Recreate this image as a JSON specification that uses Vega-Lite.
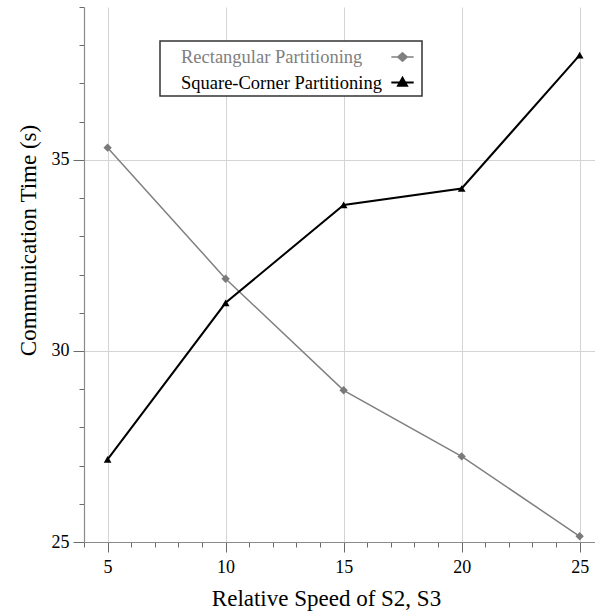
{
  "$schema": "https://vega.github.io/schema/vega-lite/v6.json",
  "autosize": "none",
  "width": 511,
  "height": 535,
  "padding": {"left": 84, "top": 7, "right": 0, "bottom": 69},
  "background": "white",
  "config": {
    "view": {"stroke": null},
    "font": "Liberation Serif",
    "axis": {
      "labelFont": "Liberation Serif",
      "titleFont": "Liberation Serif",
      "labelFontSize": 18,
      "titleFontSize": 23,
      "labelColor": "#000000",
      "titleColor": "#000000",
      "titleFontWeight": "normal",
      "domainColor": "#8a8a8a",
      "domainWidth": 1.2,
      "tickColor": "#6a6a6a",
      "tickWidth": 1,
      "gridColor": "#d4d4d4",
      "gridWidth": 1
    }
  },
  "data": {
    "values": [
      {"speed": 5, "series": "Rectangular Partitioning", "time": 35.32},
      {"speed": 10, "series": "Rectangular Partitioning", "time": 31.89},
      {"speed": 15, "series": "Rectangular Partitioning", "time": 28.97},
      {"speed": 20, "series": "Rectangular Partitioning", "time": 27.24},
      {"speed": 25, "series": "Rectangular Partitioning", "time": 25.15},
      {"speed": 5, "series": "Square-Corner Partitioning", "time": 27.16},
      {"speed": 10, "series": "Square-Corner Partitioning", "time": 31.26},
      {"speed": 15, "series": "Square-Corner Partitioning", "time": 33.82},
      {"speed": 20, "series": "Square-Corner Partitioning", "time": 34.25},
      {"speed": 25, "series": "Square-Corner Partitioning", "time": 37.74}
    ]
  },
  "encoding": {
    "x": {
      "field": "speed",
      "type": "quantitative",
      "title": "Relative Speed of S2, S3",
      "scale": {"domain": [4, 25.65], "nice": false, "zero": false},
      "axis": {
        "values": [4,5,6,7,8,9,10,11,12,13,14,15,16,17,18,19,20,21,22,23,24,25],
        "labelExpr": "datum.value % 5 === 0 ? datum.label : ''",
        "tickSize": {"condition": {"test": "datum.value % 5 !== 0", "value": 5}, "value": 10},
        "gridOpacity": {"condition": {"test": "datum.value % 5 !== 0", "value": 0}, "value": 1},
        "labelPadding": 6,
        "labelFlush": false,
        "titleX": 242,
        "titleY": 63,
        "titleBaseline": "alphabetic"
      }
    },
    "y": {
      "field": "time",
      "type": "quantitative",
      "title": "Communication Time (s)",
      "scale": {"domain": [25, 39], "nice": false, "zero": false},
      "axis": {
        "values": [25,26,27,28,29,30,31,32,33,34,35,36,37,38,39],
        "labelExpr": "datum.value % 5 === 0 ? datum.label : ''",
        "tickSize": {"condition": {"test": "datum.value % 5 !== 0", "value": 5}, "value": 11},
        "gridOpacity": {"condition": {"test": "datum.value % 5 !== 0", "value": 0}, "value": 1},
        "labelPadding": 4,
        "labelFlush": false,
        "titleX": -49,
        "titleY": 233,
        "titleBaseline": "alphabetic"
      }
    }
  },
  "layer": [
    {
      "mark": {"type": "line"},
      "encoding": {
        "color": {
          "field": "series",
          "type": "nominal",
          "scale": {"domain": ["Rectangular Partitioning", "Square-Corner Partitioning"], "range": ["#808080", "#000000"]},
          "legend": {
            "title": null,
            "orient": "none",
            "legendX": 76,
            "legendY": 34,
            "direction": "vertical",
            "fillColor": "white",
            "strokeColor": "#333333",
            "padding": 4,
            "labelFont": "Liberation Serif",
            "labelFontSize": 18.5,
            "labelOffset": -234,
            "symbolOffset": 226,
            "symbolSize": 500,
            "symbolStrokeWidth": 1.5,
            "rowPadding": 3,
            "labelLimit": 500,
            "labelExpr": "datum.label + '          '",
            "encode": {
              "legend": {
                "update": {"strokeWidth": {"value": 1.5}}
              },
              "symbols": {
                "update": {
                  "shape": {"signal": "datum.value === 'Rectangular Partitioning' ? 'M-1,0H1M0,-0.38L0.42,0L0,0.38L-0.42,0Z' : 'M-1,0H1M0,-0.42L0.4,0.3L-0.4,0.3Z'"},
                  "size": {"value": 500},
                  "strokeWidth": {"value": 1.5},
                  "fill": {"signal": "datum.value === 'Rectangular Partitioning' ? '#808080' : '#000000'"},
                  "stroke": {"signal": "datum.value === 'Rectangular Partitioning' ? '#808080' : '#000000'"},
                  "opacity": {"value": 1}
                }
              },
              "labels": {
                "update": {
                  "fill": {"signal": "datum.value === 'Rectangular Partitioning' ? '#808080' : '#000000'"}
                }
              }
            }
          }
        },
        "strokeWidth": {
          "field": "series",
          "type": "nominal",
          "scale": {"domain": ["Rectangular Partitioning", "Square-Corner Partitioning"], "range": [1.5, 2]},
          "legend": null
        }
      }
    },
    {
      "transform": [{"filter": "datum.series === 'Rectangular Partitioning'"}],
      "mark": {"type": "point", "filled": true, "opacity": 1, "shape": "diamond", "color": "#7a7a7a", "size": 70}
    },
    {
      "transform": [{"filter": "datum.series === 'Square-Corner Partitioning'"}],
      "mark": {"type": "point", "filled": true, "opacity": 1, "shape": "triangle-up", "color": "#000000", "size": 60}
    }
  ]
}
